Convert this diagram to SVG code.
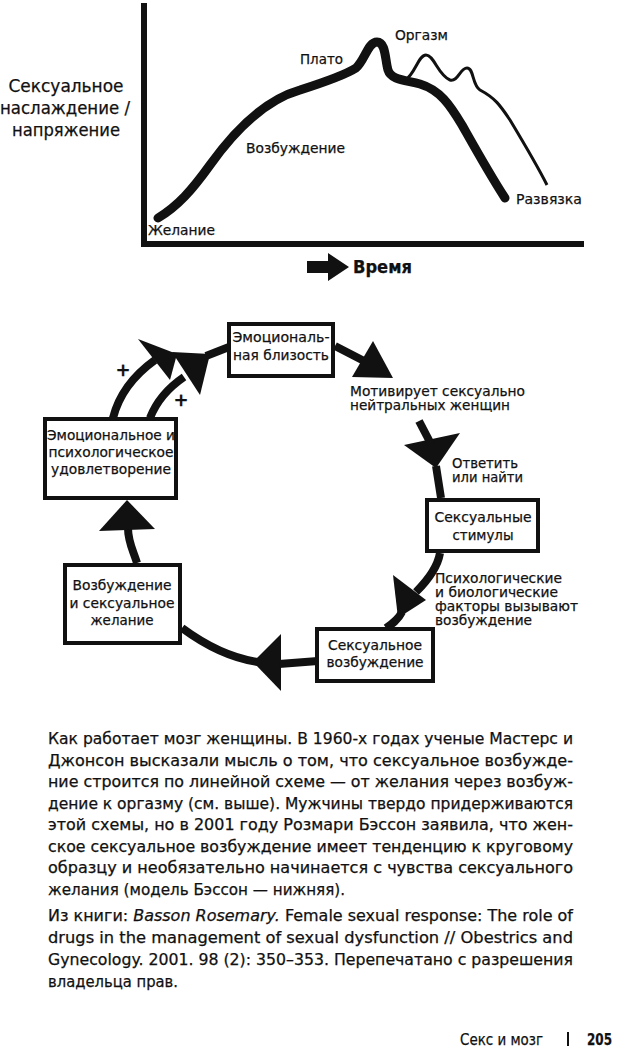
<svg xmlns="http://www.w3.org/2000/svg" width="620" height="1051" viewBox="0 0 620 1051">
<style>
text{font-family:"DejaVu Sans","Liberation Sans",sans-serif;fill:#111;stroke:#111;stroke-width:0.25}
.lab{font-size:14px}
.box{fill:#fff;stroke:#111;stroke-width:4}
.ln{fill:none;stroke:#111;stroke-width:8}
.ah{fill:#111;stroke:none}
.body{font-size:15px}
</style>
<rect width="620" height="1051" fill="#fff"/>
<g id="graph">
  <line x1="144" y1="3" x2="144" y2="247" stroke="#111" stroke-width="6"/>
  <line x1="141" y1="244" x2="584" y2="244" stroke="#111" stroke-width="6"/>
  <path d="M158,218 C178,206 192,190 210,165 C235,130 265,100 300,90 C325,82 345,75 356,68 C365,60 368,42 377,42 C386,42 385,60 388,70 C391,80 405,80 420,84 C440,90 450,105 462,125 C475,148 490,175 505,198" fill="none" stroke="#111" stroke-width="9" stroke-linecap="round" stroke-linejoin="round"/>
  <path d="M405,80 C415,75 418,55 426,55 C434,55 438,75 450,80 C458,82 460,68 467,68 C474,68 472,85 480,90 C495,98 500,105 510,120 C525,145 537,165 547,185" fill="none" stroke="#111" stroke-width="3" stroke-linejoin="round"/>
  <text x="66" y="92" font-size="17" text-anchor="middle" textLength="115" lengthAdjust="spacingAndGlyphs">Сексуальное</text>
  <text x="65" y="114" font-size="17" text-anchor="middle" textLength="130" lengthAdjust="spacingAndGlyphs">наслаждение /</text>
  <text x="66" y="136" font-size="17" text-anchor="middle" textLength="108" lengthAdjust="spacingAndGlyphs">напряжение</text>
  <text class="lab" x="300" y="64" textLength="43" lengthAdjust="spacingAndGlyphs">Плато</text>
  <text class="lab" x="395" y="40" textLength="53" lengthAdjust="spacingAndGlyphs">Оргазм</text>
  <text class="lab" x="246" y="153" textLength="99" lengthAdjust="spacingAndGlyphs">Возбуждение</text>
  <text class="lab" x="148" y="235" textLength="67" lengthAdjust="spacingAndGlyphs">Желание</text>
  <text class="lab" x="516" y="204" textLength="66" lengthAdjust="spacingAndGlyphs">Развязка</text>
  <polygon points="307,261 328,261 328,253 349,267 328,281 328,273 307,273" fill="#111"/>
  <text x="353" y="273" font-size="17" font-weight="bold" textLength="59" lengthAdjust="spacingAndGlyphs">Время</text>
</g>
<g id="connectors">
  <path class="ln" d="M137,563 C133,550 128,542 128,528"/>
  <polygon class="ah" points="127,500 99,531 155,529"/>
  <path class="ln" d="M182,628 C205,645 230,658 258,662"/>
  <polygon class="ah" points="253,662 281,634 281,691"/>
  <path class="ln" d="M279,664 L318,661"/>
  <path class="ln" d="M440,553 C438,565 430,578 416,592"/>
  <polygon class="ah" points="393,575 426,600 398,618"/>
  <path class="ln" d="M402,612 C398,620 392,624 386,628"/>
  <path class="ln" d="M441,498 L436,466" stroke-width="7"/>
  <polygon class="ah" points="404,445 460,433 436,468"/>
  <path class="ln" d="M431,444 L419,421" stroke-width="7"/>
  <path class="ln" d="M335,346 L366,362" stroke-width="7"/>
  <polygon class="ah" points="373,341 393,378 352,377"/>
  <path class="ln" d="M206,356 L229,347" stroke-width="6"/>
  <polygon class="ah" points="172,352 210,354 200,395"/>
  <polygon class="ah" points="138,339 177,354 170,380"/>
  <path class="ln" d="M113,418 C118,398 130,378 155,360"/>
  <path class="ln" d="M150,418 C155,405 165,390 184,377"/>
  <text x="123" y="376" font-size="18" font-weight="bold" text-anchor="middle">+</text>
  <text x="181" y="406" font-size="18" font-weight="bold" text-anchor="middle">+</text>
  <text class="lab" x="350" y="396" textLength="175" lengthAdjust="spacingAndGlyphs">Мотивирует сексуально</text>
  <text class="lab" x="350" y="410" textLength="160" lengthAdjust="spacingAndGlyphs">нейтральных женщин</text>
  <text class="lab" x="452" y="468" textLength="66" lengthAdjust="spacingAndGlyphs">Ответить</text>
  <text class="lab" x="452" y="482" textLength="71" lengthAdjust="spacingAndGlyphs">или найти</text>
  <text class="lab" x="435" y="583" textLength="127" lengthAdjust="spacingAndGlyphs">Психологические</text>
  <text class="lab" x="435" y="597" textLength="123" lengthAdjust="spacingAndGlyphs">и биологические</text>
  <text class="lab" x="435" y="611" textLength="143" lengthAdjust="spacingAndGlyphs">факторы вызывают</text>
  <text class="lab" x="435" y="625" textLength="97" lengthAdjust="spacingAndGlyphs">возбуждение</text>
</g>
<g id="node-closeness">
  <rect class="box" x="229" y="324" width="104" height="52"/>
  <text class="lab" x="281" y="342" text-anchor="middle" textLength="97" lengthAdjust="spacingAndGlyphs">Эмоциональ-</text>
  <text class="lab" x="281" y="360" text-anchor="middle" textLength="96" lengthAdjust="spacingAndGlyphs">ная близость</text>
</g>
<g id="node-satisfaction">
  <rect class="box" x="45" y="419" width="131" height="79"/>
  <text class="lab" x="111" y="440" text-anchor="middle" textLength="128" lengthAdjust="spacingAndGlyphs">Эмоциональное и</text>
  <text class="lab" x="111" y="457" text-anchor="middle" textLength="125" lengthAdjust="spacingAndGlyphs">психологическое</text>
  <text class="lab" x="111" y="474" text-anchor="middle" textLength="120" lengthAdjust="spacingAndGlyphs">удовлетворение</text>
</g>
<g id="node-stimuli">
  <rect class="box" x="427" y="500" width="111" height="51"/>
  <text class="lab" x="483" y="522" text-anchor="middle" textLength="97" lengthAdjust="spacingAndGlyphs">Сексуальные</text>
  <text class="lab" x="483" y="540" text-anchor="middle" textLength="61" lengthAdjust="spacingAndGlyphs">стимулы</text>
</g>
<g id="node-arousal">
  <rect class="box" x="317" y="629" width="116" height="52"/>
  <text class="lab" x="375" y="650" text-anchor="middle" textLength="94" lengthAdjust="spacingAndGlyphs">Сексуальное</text>
  <text class="lab" x="375" y="667" text-anchor="middle" textLength="97" lengthAdjust="spacingAndGlyphs">возбуждение</text>
</g>
<g id="node-desire">
  <rect class="box" x="65" y="565" width="115" height="78"/>
  <text class="lab" x="122" y="590" text-anchor="middle" textLength="99" lengthAdjust="spacingAndGlyphs">Возбуждение</text>
  <text class="lab" x="122" y="608" text-anchor="middle" textLength="105" lengthAdjust="spacingAndGlyphs">и сексуальное</text>
  <text class="lab" x="122" y="625" text-anchor="middle" textLength="63" lengthAdjust="spacingAndGlyphs">желание</text>
</g>
<g id="caption" class="body">
  <text x="48" y="744" textLength="525" lengthAdjust="spacingAndGlyphs">Как работает мозг женщины. В 1960-х годах ученые Мастерс и</text>
  <text x="48" y="765.5" textLength="525" lengthAdjust="spacingAndGlyphs">Джонсон высказали мысль о том, что сексуальное возбужде-</text>
  <text x="48" y="787" textLength="525" lengthAdjust="spacingAndGlyphs">ние строится по линейной схеме — от желания через возбуж-</text>
  <text x="48" y="808.5" textLength="525" lengthAdjust="spacingAndGlyphs">дение к оргазму (см. выше). Мужчины твердо придерживаются</text>
  <text x="48" y="830" textLength="525" lengthAdjust="spacingAndGlyphs">этой схемы, но в 2001 году Розмари Бэссон заявила, что жен-</text>
  <text x="48" y="851.5" textLength="525" lengthAdjust="spacingAndGlyphs">ское сексуальное возбуждение имеет тенденцию к круговому</text>
  <text x="48" y="873" textLength="525" lengthAdjust="spacingAndGlyphs">образцу и необязательно начинается с чувства сексуального</text>
  <text x="48" y="894.5" textLength="297" lengthAdjust="spacingAndGlyphs">желания (модель Бэссон — нижняя).</text>
  <text x="48" y="921" textLength="525" lengthAdjust="spacingAndGlyphs">Из книги: <tspan font-style="italic">Basson Rosemary.</tspan> Female sexual response: The role of</text>
  <text x="48" y="943" textLength="525" lengthAdjust="spacingAndGlyphs">drugs in the management of sexual dysfunction // Obestrics and</text>
  <text x="48" y="965" textLength="525" lengthAdjust="spacingAndGlyphs">Gynecology. 2001. 98 (2): 350–353. Перепечатано с разрешения</text>
  <text x="48" y="987" textLength="130" lengthAdjust="spacingAndGlyphs">владельца прав.</text>
</g>
<g id="footer">
  <text x="460" y="1045" font-size="15" textLength="83" lengthAdjust="spacingAndGlyphs">Секс и мозг</text>
  <line x1="568" y1="1032" x2="568" y2="1046" stroke="#111" stroke-width="2"/>
  <text x="587" y="1045" font-size="16" font-weight="bold" textLength="25" lengthAdjust="spacingAndGlyphs">205</text>
</g>
</svg>
